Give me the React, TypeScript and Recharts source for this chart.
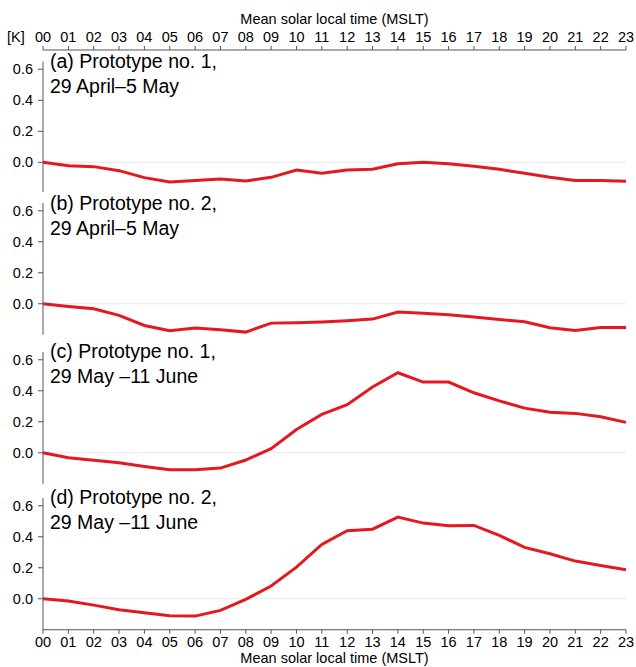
import { Line, LineChart, ReferenceLine, XAxis, YAxis } from "recharts";

const hourLabels = [
    "00", "01", "02", "03", "04", "05", "06", "07", "08", "09", "10", "11",
    "12", "13", "14", "15", "16", "17", "18", "19", "20", "21", "22", "23",
];

// temperature difference [K] per hour
const proto1Spring = [
    0, -0.022, -0.028, -0.054, -0.099, -0.127, -0.118, -0.108, -0.121, -0.097, -0.05, -0.071,
    -0.05, -0.045, -0.009, 0.001, -0.009, -0.026, -0.045, -0.071, -0.097, -0.118, -0.118, -0.122,
];
const proto2Spring = [
    0, -0.017, -0.032, -0.075, -0.14, -0.174, -0.157, -0.168, -0.183, -0.125, -0.123, -0.118,
    -0.11, -0.099, -0.054, -0.062, -0.071, -0.086, -0.101, -0.116, -0.155, -0.172, -0.153, -0.153,
];
const proto1Summer = [
    0, -0.032, -0.049, -0.065, -0.088, -0.11, -0.11, -0.099, -0.047, 0.026, 0.15, 0.247,
    0.31, 0.424, 0.516, 0.456, 0.456, 0.387, 0.335, 0.288, 0.262, 0.254, 0.232, 0.196,
];
const proto2Summer = [
    0, -0.015, -0.041, -0.071, -0.09, -0.11, -0.112, -0.075, -0.004, 0.082, 0.204, 0.35,
    0.439, 0.449, 0.527, 0.488, 0.471, 0.473, 0.409, 0.331, 0.29, 0.243, 0.215, 0.187,
];

const yTicks = [0, 0.2, 0.4, 0.6];
const hourTicks = hourLabels.map((_, i) => i);

const FONT = "'Liberation Sans', Arial, Helvetica, sans-serif";
const AXIS = "#555";
const RED = "#e3191f";
const PX_PER_K = 155;
const Y_MIN = -0.2;
const Y_MAX = 0.65;

const panels = [
    { key: "a", values: proto1Spring, zero: 162.3, title: "(a) Prototype no. 1,", period: "29 April–5 May" },
    { key: "b", values: proto2Spring, zero: 304, title: "(b) Prototype no. 2,", period: "29 April–5 May" },
    { key: "c", values: proto1Summer, zero: 452.3, title: "(c) Prototype no. 1,", period: "29 May –11 June" },
    { key: "d", values: proto2Summer, zero: 598.3, title: "(d) Prototype no. 2,", period: "29 May –11 June" },
];

const tickStyle = { fill: "#000", fontSize: 14.5, fontFamily: FONT };

function Panel({ values, zero, first, last }: { values: number[]; zero: number; first: boolean; last: boolean }) {
    const data = values.map((v, i) => ({ hour: i, value: v }));
    const plotBottom = zero - Y_MIN * PX_PER_K;
    const plotTop = first ? 50 : zero - Y_MAX * PX_PER_K;
    const chartTop = first ? 0 : plotTop - 5;
    const marginTop = first ? 0 : 5;
    const bottomExtra = last ? 32 : 5;
    const height = plotBottom - chartTop + bottomExtra;
    const yMax = Y_MIN + (plotBottom - plotTop) / PX_PER_K;

    return (
        <div style={{ position: "absolute", left: 0, top: chartTop }}>
            <LineChart
                width={636}
                height={height}
                data={data}
                margin={{ top: marginTop, right: 10, left: 0, bottom: last ? 0 : 5 }}
            >
                <XAxis
                    dataKey="hour"
                    type="number"
                    domain={[0, 23]}
                    ticks={hourTicks}
                    interval={0}
                    hide={!first && !last}
                    orientation={first ? "top" : "bottom"}
                    height={first ? 50 : 32}
                    tickFormatter={(v) => hourLabels[v]}
                    tick={tickStyle}
                    tickSize={4}
                    tickMargin={first ? 4 : 3}
                    axisLine={{ stroke: AXIS }}
                    tickLine={{ stroke: AXIS }}
                />
                <YAxis
                    width={43}
                    domain={[Y_MIN, yMax]}
                    ticks={yTicks}
                    tickFormatter={(v) => Number(v).toFixed(1)}
                    tick={tickStyle}
                    tickSize={5}
                    tickMargin={5}
                    axisLine={first ? false : { stroke: AXIS }}
                    tickLine={{ stroke: AXIS }}
                />
                <ReferenceLine y={0} stroke="#e8e8e8" strokeWidth={1} />
                {first && (
                    <ReferenceLine
                        segment={[
                            { x: 0, y: -0.19 },
                            { x: 0, y: Y_MAX },
                        ]}
                        stroke={AXIS}
                    />
                )}
                <Line
                    type="linear"
                    dataKey="value"
                    stroke={RED}
                    strokeWidth={3}
                    dot={false}
                    isAnimationActive={false}
                />
            </LineChart>
        </div>
    );
}

export default function App() {
    return (
        <div
            style={{
                position: "absolute",
                left: 0,
                top: 0,
                width: 636,
                height: 667,
                overflow: "hidden",
                background: "#fff",
            }}
        >
            {panels.map((p, i) => (
                <Panel
                    key={p.key}
                    values={p.values}
                    zero={p.zero}
                    first={i === 0}
                    last={i === panels.length - 1}
                />
            ))}

            <svg
                width={636}
                height={667}
                style={{ position: "absolute", left: 0, top: 0, pointerEvents: "none" }}
                fontFamily={FONT}
            >
                <text x={334.5} y={24} fontSize={14.5} textAnchor="middle" fill="#000">
                    Mean solar local time (MSLT)
                </text>
                <text x={7} y={42} fontSize={14.5} fill="#000">
                    [K]
                </text>
                {panels.map((p) => (
                    <g key={p.key} fontSize={19.5} fill="#000">
                        <text x={50} y={p.zero - 94}>
                            {p.title}
                        </text>
                        <text x={50} y={p.zero - 69}>
                            {p.period}
                        </text>
                    </g>
                ))}
                <text x={334.5} y={663} fontSize={14.5} textAnchor="middle" fill="#000">
                    Mean solar local time (MSLT)
                </text>
            </svg>
        </div>
    );
}
